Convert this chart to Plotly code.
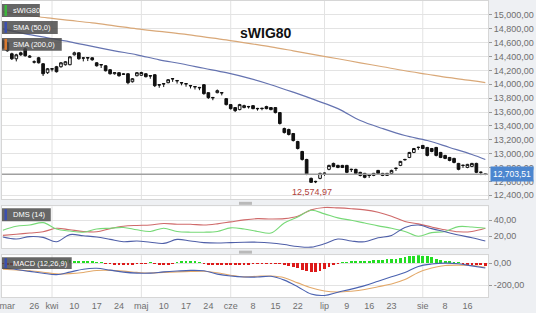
import plotly.graph_objects as go
from plotly.subplots import make_subplots

# ---------------- data ----------------
day_idx = list(range(-7, 102))  # trading-day index, 0 = 26 Mar
opens = [14626,14598,14440,14368,14454,14511,14390,14325,14382,14296,14167,14224,14253,14253,14282,14282,14425,14454,14380,14385,14382,14310,14285,14267,14210,14152,14167,14150,14152,14037,14123,14130,14152,14125,14138,13995,14010,14023,14082,14055,14025,14010,13982,13968,13955,13994,13879,13810,13879,13880,13793,13707,13664,13635,13664,13680,13692,13652,13655,13678,13664,13664,13592,13362,13347,13290,13175,13031,12916,12643,12600,12643,12720,12773,12859,12830,12830,12830,12775,12773,12730,12715,12690,12686,12758,12715,12686,12715,12790,12830,12910,12945,13017,13092,13118,13089,13074,13089,13017,12974,12945,12931,12859,12833,12801,12816,12859,12733,12705]
highs = [14650,14610,14455,14440,14470,14530,14420,14345,14395,14305,14235,14232,14265,14320,14335,14405,14470,14460,14392,14392,14390,14320,14292,14275,14218,14175,14172,14158,14160,14090,14175,14180,14160,14132,14145,14002,14018,14075,14090,14062,14032,14018,13990,13975,13962,14002,13885,13818,13925,13888,13800,13715,13672,13718,13705,13688,13700,13660,13662,13690,13672,13672,13600,13375,13360,13298,13185,13040,12925,12655,12608,12725,12728,12840,12870,12840,12838,12838,12782,12782,12738,12722,12698,12722,12765,12722,12722,12768,12798,12895,12925,13025,13082,13100,13125,13097,13082,13097,13025,12982,12952,12940,12866,12840,12852,12866,12868,12740,12712]
lows = [14510,14470,14350,14330,14410,14400,14380,14300,14300,14120,14150,14185,14170,14240,14270,14275,14415,14355,14330,14335,14340,14255,14235,14185,14140,14140,14110,14135,14000,14025,14115,14120,14100,14080,13960,13950,13960,14015,14035,14010,13985,13965,13940,13925,13915,13850,13790,13770,13870,13840,13695,13635,13600,13625,13655,13650,13640,13620,13625,13640,13625,13580,13420,13290,13262,13175,13060,12900,12690,12580,12574.97,12630,12680,12760,12805,12790,12792,12718,12735,12705,12672,12645,12650,12675,12705,12676,12678,12705,12750,12820,12900,12935,13008,13055,13065,12960,13020,12960,12935,12920,12890,12860,12760,12795,12790,12805,12718,12690,12690]
closes = [14526,14483,14368,14425,14425,14411,14405,14320,14310,14152,14224,14220,14181,14310,14325,14396,14454,14368,14378,14380,14353,14267,14280,14195,14152,14167,14123,14145,14023,14080,14167,14170,14109,14120,13980,13990,14005,14066,14078,14050,14020,14006,13978,13963,13950,13865,13807,13805,13908,13876,13707,13649,13620,13707,13692,13676,13649,13648,13650,13649,13635,13592,13434,13304,13276,13189,13074,12916,12701,12586,12595,12715,12715,12830,12816,12801,12801,12730,12770,12715,12686,12658,12686,12715,12715,12686,12715,12758,12787,12888,12916,13017,13074,13089,13074,12974,13031,12974,12945,12931,12902,12873,12773,12830,12845,12859,12730,12730,12703.51]

sma_idx = [-7,-2,3,8,13,18,23,28,33,38,43,48,53,58,63,68,73,78,83,88,93,98,101]
sma50 = [14799,14727,14670,14612,14547,14483,14425,14353,14296,14231,14167,14088,13994,13886,13771,13649,13477,13362,13261,13189,13089,12988,12916]
sma200 = [15043,15000,14957,14921,14885,14842,14799,14763,14727,14684,14641,14590,14540,14483,14425,14368,14310,14253,14195,14145,14095,14052,14023]

ind_idx = [-7,-4,-1,2,5,8,11,14,17,20,23,26,29,32,35,38,41,44,47,50,53,56,59,62,65,68,71,74,77,80,83,86,89,92,95,98,101]
dms_green = [27.5,32.5,34,37,29,26.5,25,29,30,31,28,26,30,26,25,25,26,30.5,29,26,24,36.5,44,52.5,48,43,40,36.5,33,30,26,20,24.5,26,32,31.5,30]
dms_red = [21,22.5,24,25.5,30,28,26,25.5,29.5,32.5,33.5,34,36,35,35,34,35.5,38,40.5,42,41.5,42,45,53,56,55.5,54.5,53,50,45,38.5,35.5,31.5,28,25.5,26,30]
dms_blue = [19,16.5,19.5,18.5,13,22,20.5,19,16,13,14,12.5,11,16,14,12,11.5,12,12.5,12.5,11.5,9.5,7,6.25,10.5,16.5,14,13,18,21,31,34,29.5,25.5,21.5,18,14]
macd_line = [-45,-58,-75,-92,-105,-82,-55,-47,-64,-82,-91,-91,-80,-72,-66,-70,-100,-118,-127,-127,-120,-155,-215,-282,-295,-265,-237,-205,-165,-125,-85,-30,-8,0,-5,-25,-45]
macd_signal = [-55,-62,-70,-83,-98,-96,-85,-67,-66,-73,-84,-90,-84,-80,-76,-74,-88,-110,-125,-120,-118,-133,-180,-225,-255,-264,-256,-240,-215,-190,-150,-85,-45,-22,-18,-22,-38]
macd_hist = [-8,-10,-12,-14,-10,-6,-4,
             4,6,10,14,
             18,22,25,25,24,22,20,18,15,12,8,4,
             -4,-8,-12,-14,-14,-12,-10,-6,
             -3,-2,2,
             -6,-10,-12,-10,-6,
             6,10,12,12,10,6,
             -6,-12,-16,-20,-22,-20,-18,-16,-14,-12,-10,-8,-6,-4,-3,-2,-4,-8,
             -15,-25,-38,-50,-62,-75,-82,-80,-70,-55,-35,-15,
             -5,4,
             8,12,15,18,20,22,25,28,30,33,36,40,45,52,60,68,70,68,62,52,40,30,20,12,6,2,
             -8,-14,-18,-20,-22,-24]

x_tick_idx = [-6,0,4,9,14,19,24,29,34,39,44,49,54,59,65,70,75,80,87,92,97]
x_tick_txt = ["mar","26","kwi","10","17","24","maj","10","17","24","cze","8","15","22","lip","9","16","23","sie","8","16"]
month_idx = [4,24,44,65,87]

main_ticks = [15000,14800,14600,14400,14200,14000,13800,13600,13400,13200,13000,12800,12600,12400]
main_tick_txt = ["15,000,00","14,800,00","14,600,00","14,400,00","14,200,00","14,000,00","13,800,00",
                 "13,600,00","13,400,00","13,200,00","13,000,00","12,800,00","12,600,00","12,400,00"]
last_close = 12703.51
last_close_txt = "12,703,51"
low_val = 12574.97
low_txt = "12,574,97"
low_idx = 63

# ---------------- layout helpers ----------------
W, H = 536, 313
ML, MR, MT, MB = 0, 48, 0, 16
PW, PH = W - ML - MR, H - MT - MB
def fx(px): return (px - ML) / PW
def fy(py): return 1 - (py - MT) / PH

FONT = "Liberation Sans, Arial, sans-serif"
GRID = "#e3e3e3"
TXT = "#6f6f6f"

fig = make_subplots(rows=3, cols=1, shared_xaxes=True)

fig.add_trace(go.Candlestick(
    x=day_idx, open=opens, high=highs, low=lows, close=closes,
    increasing=dict(line=dict(color="#111111", width=1), fillcolor="#ffffff"),
    decreasing=dict(line=dict(color="#111111", width=1), fillcolor="#111111"),
    whiskerwidth=0, showlegend=False), row=1, col=1)
fig.add_trace(go.Scatter(x=sma_idx, y=sma200, mode="lines", line=dict(color="#d9a878", width=1.2, shape="spline"),
                         showlegend=False), row=1, col=1)
fig.add_trace(go.Scatter(x=sma_idx, y=sma50, mode="lines", line=dict(color="#6573b0", width=1.2, shape="spline"),
                         showlegend=False), row=1, col=1)

fig.add_trace(go.Scatter(x=ind_idx, y=dms_red, mode="lines", line=dict(color="#cf6a6a", width=1.1, shape="spline"), showlegend=False), row=2, col=1)
fig.add_trace(go.Scatter(x=ind_idx, y=dms_green, mode="lines", line=dict(color="#77d977", width=1.1, shape="spline"), showlegend=False), row=2, col=1)
fig.add_trace(go.Scatter(x=ind_idx, y=dms_blue, mode="lines", line=dict(color="#4f5fa8", width=1.1, shape="spline"), showlegend=False), row=2, col=1)

fig.add_trace(go.Bar(x=day_idx, y=macd_hist, width=0.62,
                     marker=dict(color=["#22dd22" if v >= 0 else "#dd1a1a" for v in macd_hist], line=dict(width=0)),
                     showlegend=False), row=3, col=1)
fig.add_trace(go.Scatter(x=ind_idx, y=macd_signal, mode="lines", line=dict(color="#e3a96a", width=1.1, shape="spline"), showlegend=False), row=3, col=1)
fig.add_trace(go.Scatter(x=ind_idx, y=macd_line, mode="lines", line=dict(color="#4a62b0", width=1.1, shape="spline"), showlegend=False), row=3, col=1)

xr = [-7.2, 101.6]
common_x = dict(range=xr, showgrid=False, zeroline=False, showline=True, mirror=True, linecolor="#d6d6d6",
                rangeslider=dict(visible=False))
fig.update_layout(
    xaxis=dict(**common_x, showticklabels=False, ticks=""),
    xaxis2=dict(**common_x, showticklabels=False, ticks=""),
    xaxis3=dict(**common_x, tickmode="array", tickvals=x_tick_idx, ticktext=x_tick_txt, ticks="",
                ticklabeloverflow="allow",
                tickfont=dict(family=FONT, size=9, color=TXT)),
)
ycommon = dict(side="right", showgrid=True, gridcolor=GRID, zeroline=False, showline=True, mirror=True,
               linecolor="#d6d6d6", ticks="outside", ticklen=3, tickcolor="#9a9a9a",
               tickfont=dict(family=FONT, size=9, color=TXT), tickmode="array")
fig.update_layout(
    yaxis=dict(**ycommon, domain=[fy(199), 1], range=[12341, 15201], tickvals=main_ticks, ticktext=main_tick_txt),
    yaxis2=dict(**ycommon, domain=[fy(248), fy(206)], range=[5, 57.5], tickvals=[20, 40], ticktext=["20,00", "40,00"]),
    yaxis3=dict(**ycommon, domain=[0, fy(255)], range=[-309, 73], tickvals=[-200, 0], ticktext=["-200,00", "0,00"]),
)

shapes = []
for m in month_idx:
    for yr in ["y domain", "y2 domain", "y3 domain"]:
        shapes.append(dict(type="line", xref="x", yref=yr, x0=m, x1=m, y0=0, y1=1,
                           line=dict(color=GRID, width=1), layer="below"))
shapes.append(dict(type="line", xref="x domain", yref="y", x0=0, x1=1, y0=last_close, y1=last_close,
                   line=dict(color="#a0a0a0", width=1.5)))
# panel handles
for py in (201.5, 250.5):
    shapes.append(dict(type="rect", xref="paper", yref="paper", x0=fx(238), x1=fx(251), y0=fy(py + 3), y1=fy(py),
                       fillcolor="#b9b9b9", line=dict(width=0)))

annotations = []
def legend_box(x1px, y0px, y1px, text, strip):
    shapes.append(dict(type="rect", xref="paper", yref="paper", x0=fx(0), x1=fx(x1px), y0=fy(y1px), y1=fy(y0px),
                       fillcolor="rgba(75,75,75,0.85)", line=dict(width=0)))
    shapes.append(dict(type="rect", xref="paper", yref="paper", x0=fx(2.5), x1=fx(5), y0=fy(y1px - 1), y1=fy(y0px + 1),
                       fillcolor=strip, line=dict(width=0)))
    annotations.append(dict(xref="paper", yref="paper", x=fx(9), y=fy((y0px + y1px) / 2), text=text,
                            showarrow=False, xanchor="left", yanchor="middle",
                            font=dict(family=FONT, size=7.5, color="white")))

legend_box(38, 3, 16, "sWIG80", "#3cb83c")
legend_box(56, 20, 33, "SMA (50,0)", "#3b4fb0")
legend_box(60, 37, 50, "SMA (200,0)", "#d9792e")
legend_box(49, 208, 221, "DMS (14)", "#3b4fb0")
legend_box(70, 257, 269, "MACD (12,26,9)", "#3b4fb0")

annotations.append(dict(xref="paper", yref="paper", x=fx(265), y=fy(22), text="<b>sWIG80</b>", showarrow=False,
                        font=dict(family=FONT, size=14, color="#111111")))
annotations.append(dict(xref="paper", yref="y", x=1, y=last_close, xanchor="left", xshift=2, text=last_close_txt,
                        showarrow=False, bgcolor="#4c86cf", borderpad=2,
                        font=dict(family=FONT, size=8.5, color="white")))
annotations.append(dict(xref="x", yref="y", x=low_idx - 0.8, y=low_val, yshift=-9, text=low_txt, showarrow=False,
                        font=dict(family=FONT, size=9, color="#b0413b")))

fig.update_layout(width=W, height=H, margin=dict(l=ML, r=MR, t=MT, b=MB),
                  paper_bgcolor="#eef0f3", plot_bgcolor="#ffffff",
                  shapes=shapes, annotations=annotations, bargap=0, boxgap=0.15, showlegend=False,
                  font=dict(family=FONT))

fig.write_html("out.html")
